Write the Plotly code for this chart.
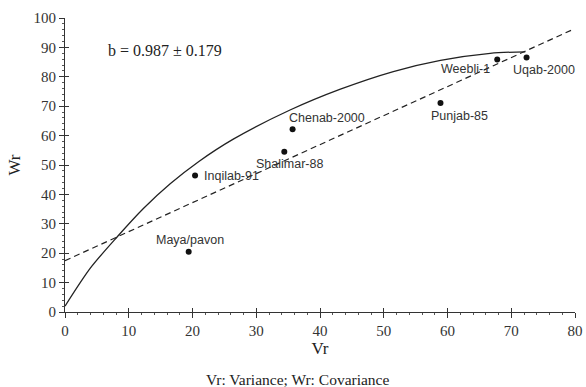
import plotly.graph_objects as go
import numpy as np

# Genotype array points (Vr, Wr)
genotypes = ["Maya/pavon", "Inqilab-91", "Chenab-2000", "Shalimar-88",
             "Punjab-85", "Weebli-1", "Uqab-2000"]
vr_values = [19.4, 20.4, 35.7, 34.4, 58.9, 67.8, 72.4]
wr_values = [20.5, 46.4, 62.2, 54.5, 71.1, 85.9, 86.6]

# Limiting curve sampled along Vr
curve_vr = [0, 4.0, 8.2, 12.3, 16.5, 21.0, 26.4, 35.3, 43.2, 51.5, 58.9, 66.7, 72.2]
curve_wr = [2.0, 15.0, 25.6, 35.2, 43.6, 51.2, 58.8, 68.7, 75.8, 81.8, 85.6, 88.0, 88.5]

# Regression slope reported on the chart
slope_b = 0.987
slope_se = 0.179
line_vr = [0, 79.5]

x_ticks = [0, 10, 20, 30, 40, 50, 60, 70, 80]
y_ticks = [0, 10, 20, 30, 40, 50, 60, 70, 80, 90, 100]

# Regression line through the means with slope b
mx, my = np.mean(vr_values), np.mean(wr_values)
intercept = my - slope_b * mx
line_wr = [intercept + slope_b * v for v in line_vr]

# Label placement: (xanchor, yanchor, xshift, yshift) in pixels
label_style = {
    "Maya/pavon": ("center", "bottom", 1, 3),
    "Inqilab-91": ("left", "middle", 7, 0),
    "Chenab-2000": ("left", "bottom", -6, 2),
    "Shalimar-88": ("center", "top", 5, -3),
    "Punjab-85": ("center", "top", 19, -4),
    "Weebli-1": ("right", "top", -5, -1),
    "Uqab-2000": ("center", "top", 17, -4),
}

INK = "#222222"
serif = "Liberation Serif"
sans = "Liberation Sans"

fig = go.Figure()

fig.add_trace(go.Scatter(
    x=curve_vr, y=curve_wr, mode="lines",
    line=dict(color=INK, width=1.3, shape="spline", smoothing=0.8),
    hoverinfo="skip", showlegend=False,
))
fig.add_trace(go.Scatter(
    x=line_vr, y=line_wr, mode="lines",
    line=dict(color=INK, width=1.2, dash="6px,4px"),
    hoverinfo="skip", showlegend=False,
))
fig.add_trace(go.Scatter(
    x=vr_values, y=wr_values, mode="markers",
    marker=dict(color="#111111", size=6),
    text=genotypes, showlegend=False,
))
# invisible trace to carry the inner tick axes
fig.add_trace(go.Scatter(
    x=[0, 80], y=[0, 100], xaxis="x2", yaxis="y2", mode="markers",
    marker=dict(opacity=0), hoverinfo="skip", showlegend=False,
))

annotations = []
for name, vx, vy in zip(genotypes, vr_values, wr_values):
    xa, ya, dx, dy = label_style[name]
    annotations.append(dict(
        x=vx, y=vy, xref="x", yref="y", text=name, showarrow=False,
        xanchor=xa, yanchor=ya, xshift=dx, yshift=dy,
        font=dict(family=sans, size=12.5, color="#333333"),
    ))

annotations.append(dict(
    x=6.4, y=89, xref="x", yref="y",
    text=f"b = {slope_b:.3f} \u00b1 {slope_se:.3f}", showarrow=False,
    xanchor="left", yanchor="middle",
    font=dict(family=serif, size=16, color=INK),
))
annotations.append(dict(
    x=0.455, y=0, xref="paper", yref="paper", yshift=-67,
    text="Vr: Variance; Wr: Covariance", showarrow=False,
    xanchor="center", yanchor="middle",
    font=dict(family=serif, size=15.5, color=INK),
))

axis_common = dict(
    showgrid=False, zeroline=False, automargin=False,
    showline=True, linecolor="#333333", linewidth=1,
    ticks="outside", ticklen=5, tickcolor="#333333", tickwidth=1,
    tickfont=dict(family=serif, size=15, color="#333333"),
    minor=dict(ticks="outside", ticklen=2, dtick=2, tickcolor="#555555", tickwidth=1),
)

fig.update_layout(
    width=586, height=387,
    margin=dict(l=65, r=11, t=18, b=75),
    paper_bgcolor="white", plot_bgcolor="white",
    xaxis=dict(range=[0, 80], tickvals=x_ticks, **axis_common,
               title=dict(text="Vr", font=dict(family=serif, size=17, color=INK), standoff=4)),
    yaxis=dict(range=[0, 100], tickvals=y_ticks, **axis_common,
               title=dict(text="Wr", font=dict(family=serif, size=17, color=INK), standoff=8)),
    xaxis2=dict(range=[0, 80], overlaying="x", anchor="y2", side="bottom", automargin=False,
                tickvals=x_ticks, ticks="inside", ticklen=4, tickcolor="#333333",
                showticklabels=False, showgrid=False, zeroline=False, showline=False),
    yaxis2=dict(range=[0, 100], overlaying="y", anchor="x2", side="left", automargin=False,
                tickvals=y_ticks, ticks="inside", ticklen=4, tickcolor="#333333",
                showticklabels=False, showgrid=False, zeroline=False, showline=False),
    annotations=annotations,
)

fig.write_html("out.html")
